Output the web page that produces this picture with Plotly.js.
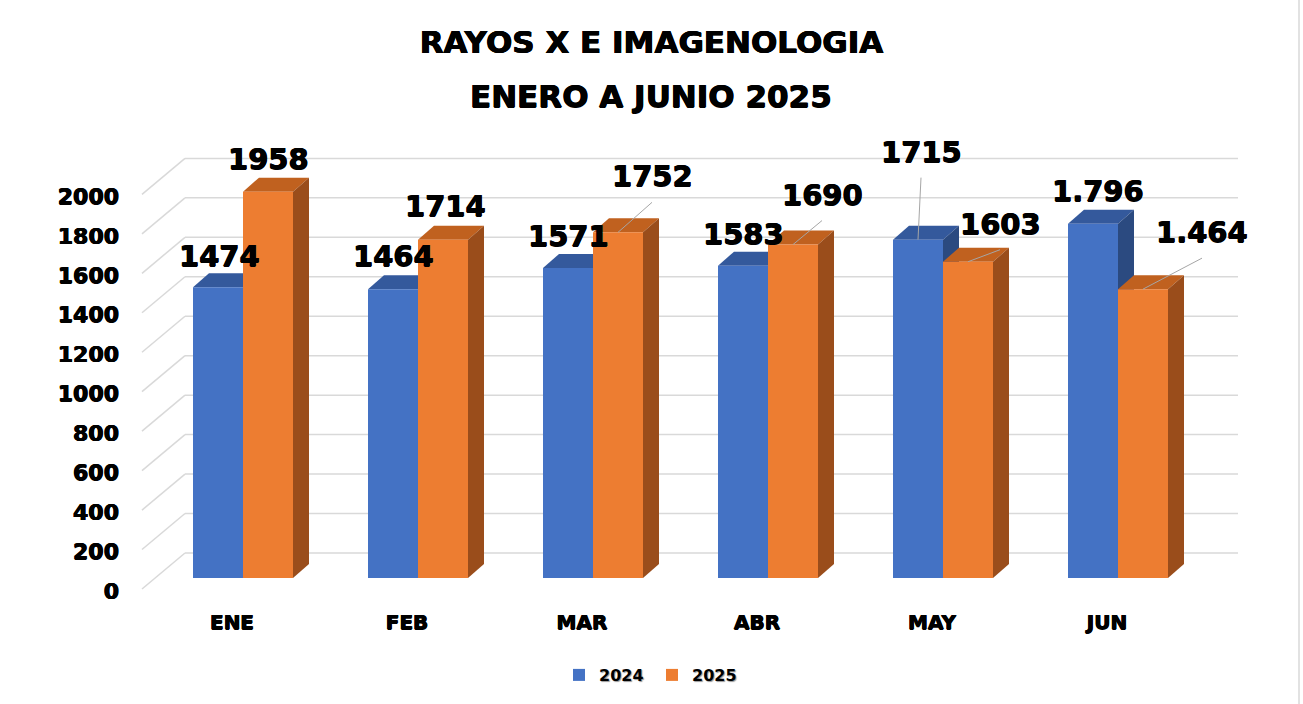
<!DOCTYPE html>
<html><head><meta charset="utf-8">
<script src="https://cdn.plot.ly/plotly-3.0.1.min.js"></script>
<style>html,body{margin:0;padding:0;background:#fff}</style>
</head><body><div id="chart" style="width:1303px;height:704px"></div>
<script>
// ---------- data ----------
const months = ['ENE','FEB','MAR','ABR','MAY','JUN'];
const values2024 = [1474,1464,1571,1583,1715,1796];
const values2025 = [1958,1714,1752,1690,1603,1464];
const labels2024 = ['1474','1464','1571','1583','1715','1.796'];
const labels2025 = ['1958','1714','1752','1690','1603','1.464'];
const yTicks = [0,200,400,600,800,1000,1200,1400,1600,1800,2000];
const seriesNames = ['2024','2025'];
const titleLine1 = 'RAYOS X E IMAGENOLOGIA';
const titleLine2 = 'ENERO A JUNIO 2025';

// ---------- geometry / style (pixels) ----------
const W=1303, H=704, L=130, R=1250, T=140, B=600;
const CAT_PX=175, FIRST_CAT_PX=243, BAR_PX=50;
const BASE_PX=578, K=0.1973;           // px per value unit
const DEPTH_X=16, DEPTH_Y=14;          // bar depth
const FRONT_WALL=11, BACK_WALL=25;     // gridline offsets
const GRID_FRONT_X=142, GRID_BACK_X=185, GRID_END_X=1238;
const TICK_OFFSET=13;
const FONT='DejaVu Sans';
const HEAVY='0.5px 0 0 #000, -0.5px 0 0 #000, 0 0.5px 0 #000';
const C24={front:'#4472C4', top:'#34599C', side:'#2B4A80'};
const C25={front:'#ED7D31', top:'#C0611F', side:'#9A4D1B'};
const GRID='#D9D9D9';
// label offsets from top-front-centre of each bar (px, screen: +x right, +y down)
const off24=[[1,-31],[0,-33],[0,-32],[0,-32],[3,-88],[5,-33]];
const off25=[[0,-33],[2,-34],[34,-56],[29,-50],[32,-38],[59,-57]];
const lead24=[0,0,0,0,1,0];
const lead25=[0,0,1,1,1,1];
const LEAD_BELOW=26;

// ---------- derived scales ----------
const xMin=(L-FIRST_CAT_PX)/CAT_PX, xMax=(R-FIRST_CAT_PX)/CAT_PX;
const yMin=(BASE_PX-B)/K, yMax=(BASE_PX-T)/K;
const pxX = px => (px-FIRST_CAT_PX)/CAT_PX;
const wBar = BAR_PX/CAT_PX, dX = DEPTH_X/CAT_PX, dY = DEPTH_Y/K;
const xs = months.map((m,i)=>i);

const shapes=[];
yTicks.forEach(v=>{
  shapes.push({type:'line',layer:'below',xref:'x',yref:'y',
    x0:pxX(GRID_FRONT_X),y0:v-FRONT_WALL/K,x1:pxX(GRID_BACK_X),y1:v+BACK_WALL/K,
    line:{color:GRID,width:1.5}});
  shapes.push({type:'line',layer:'below',xref:'x',yref:'y',
    x0:pxX(GRID_BACK_X),y0:v+BACK_WALL/K,x1:pxX(GRID_END_X),y1:v+BACK_WALL/K,
    line:{color:GRID,width:1.5}});
});
const poly = pts => 'M'+pts.map(p=>p[0]+','+p[1]).join(' L')+' Z';
function faces(x0,x1,v,c){
  shapes.push({type:'path',layer:'below',xref:'x',yref:'y',line:{width:0},fillcolor:c.top,
    path:poly([[x0,v],[x1,v],[x1+dX,v+dY],[x0+dX,v+dY]])});
  shapes.push({type:'path',layer:'below',xref:'x',yref:'y',line:{width:0},fillcolor:c.side,
    path:poly([[x1,0],[x1,v],[x1+dX,v+dY],[x1+dX,dY]])});
}
xs.forEach(i=>{
  faces(i-wBar,i,values2024[i],C24);
  faces(i,i+wBar,values2025[i],C25);
});

const annotations=[];
function addLabels(vals,labs,offs,leads,cx){
  vals.forEach((v,i)=>{
    const x=i+cx;
    annotations.push({x:x,y:v,xref:'x',yref:'y',text:labs[i],showarrow:false,
      xanchor:'center',yanchor:'middle',xshift:offs[i][0],yshift:-offs[i][1],
      font:{family:FONT,size:29,weight:'bold',color:'#000',shadow:HEAVY}});
    if(leads[i]){
      shapes.push({type:'line',layer:'above',xref:'x',yref:'y',
        xsizemode:'pixel',ysizemode:'pixel',xanchor:x,yanchor:v,
        x0:offs[i][0],y0:-(offs[i][1]+LEAD_BELOW),x1:0,y1:0,
        line:{color:'#A6A6A6',width:1}});
    }
  });
}
addLabels(values2024,labels2024,off24,lead24,-wBar/2);
addLabels(values2025,labels2025,off25,lead25,wBar/2);

annotations.push({xref:'paper',yref:'paper',x:(651-L)/(R-L),y:(B-96)/(B-T),
  text:titleLine2,showarrow:false,xanchor:'center',yanchor:'middle',
  font:{family:FONT,size:31,weight:'bold',color:'#000',shadow:HEAVY}});

// right chart border
shapes.push({type:'line',layer:'above',xref:'paper',yref:'paper',
  x0:(1299-L)/(R-L),x1:(1299-L)/(R-L),y0:(B-H)/(B-T),y1:B/(B-T),
  line:{color:'#D9D9D9',width:1.5}});

const traces=[
  {type:'bar',x:xs,y:values2024,name:seriesNames[0],width:wBar,offset:-wBar,
   marker:{color:C24.front,line:{width:0}},hoverinfo:'skip'},
  {type:'bar',x:xs,y:values2025,name:seriesNames[1],width:wBar,offset:0,
   marker:{color:C25.front,line:{width:0}},hoverinfo:'skip'},
  {type:'scatter',x:[null],y:[null],yaxis:'y2',showlegend:false,hoverinfo:'skip'}
];

const layout={
  width:W,height:H,paper_bgcolor:'#fff',plot_bgcolor:'rgba(0,0,0,0)',
  margin:{l:L,r:W-R,t:T,b:H-B,pad:0,autoexpand:false},
  barmode:'overlay',
  title:{text:titleLine1,x:0.5,xanchor:'center',xref:'container',
    y:1-42/H,yref:'container',yanchor:'middle',automargin:false,
    font:{family:FONT,size:31,weight:'bold',color:'#000',shadow:HEAVY}},
  xaxis:{range:[xMin,xMax],tickvals:xs,ticktext:months,showgrid:false,zeroline:false,
    showline:false,ticks:'',ticklabelshift:-11,ticklabelstandoff:8,automargin:false,
    tickfont:{family:FONT,size:20,weight:'bold',color:'#000',shadow:HEAVY},fixedrange:true},
  yaxis:{range:[yMin,yMax],showgrid:false,zeroline:false,showline:false,automargin:false,
    showticklabels:false,ticks:'',fixedrange:true},
  yaxis2:{range:[yMin+TICK_OFFSET/K,yMax+TICK_OFFSET/K],overlaying:'y',side:'left',anchor:'x',
    tickvals:yTicks,showgrid:false,zeroline:false,showline:false,ticks:'',automargin:false,
    ticklabelstandoff:10,tickfont:{family:FONT,size:22,weight:'bold',color:'#000',shadow:HEAVY},fixedrange:true},
  legend:{orientation:'h',x:(652-L)/(R-L),xanchor:'center',y:(B-658)/(B-T),yanchor:'top',
    entrywidth:48,itemwidth:30,
    font:{family:FONT,size:16,weight:'bold',color:'#000',shadow:'1px 1px 1px #999'},traceorder:'normal'},
  shapes:shapes,annotations:annotations,showlegend:true
};
Plotly.newPlot('chart',traces,layout,{displayModeBar:false,staticPlot:true});
</script></body></html>
